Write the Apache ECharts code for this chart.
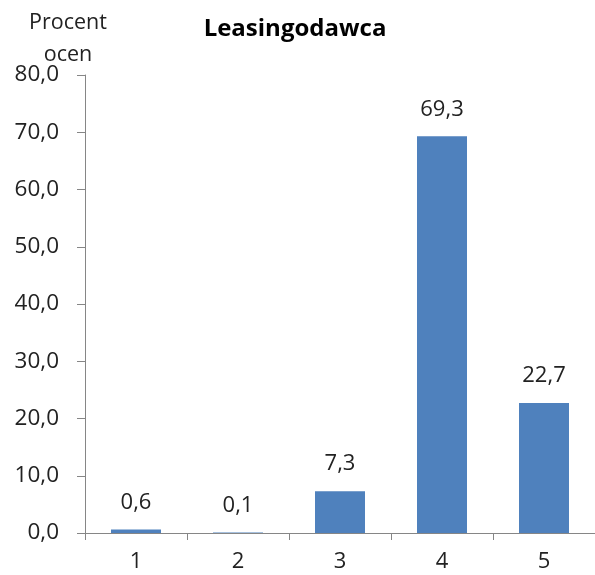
<!DOCTYPE html>
<html><head><meta charset="utf-8">
<script src="https://cdn.jsdelivr.net/npm/echarts@6/dist/echarts.min.js"></script>
<style>html,body{margin:0;padding:0;background:#fff}#c{width:595px;height:575px}</style>
</head><body><div id="c"></div>
<script>
const categories = ['1','2','3','4','5'];
const values = [0.6, 0.1, 7.3, 69.3, 22.7];
const fmt = v => v.toFixed(1).replace('.', ',');
const chart = echarts.init(document.getElementById('c'));
const font = 'Open Sans';
chart.setOption({
  animation:false,
  title:{text:'Leasingodawca', left:290, top:12, textAlign:'center',
    textStyle:{fontFamily:font,fontWeight:'bold',fontSize:24,color:'#000'}},
  graphic:[{type:'text', x:68, y:7, style:{text:'Procent\nocen', align:'center',
    font:'21.5px "Open Sans"', fill:'#222', lineHeight:32}}],
  grid:{left:85, right:0, top:75, bottom:42},
  xAxis:{type:'category', data:categories,
    axisLine:{lineStyle:{color:'#868686'}},
    axisTick:{show:true, length:7, lineStyle:{color:'#868686'}},
    axisLabel:{fontFamily:font,fontSize:22,color:'#222',margin:18}},
  yAxis:{type:'value', min:0, max:80, interval:10,
    axisLine:{show:true, lineStyle:{color:'#868686'}},
    axisTick:{show:true, length:8, lineStyle:{color:'#868686'}},
    splitLine:{show:false},
    axisLabel:{fontFamily:font,fontSize:22.5,color:'#222',margin:26, formatter:v=>fmt(v)}},
  series:[{type:'bar', data:values, barWidth:50, itemStyle:{color:'#4F81BD'},
    label:{show:true, position:'top', distance:16, fontFamily:font, fontSize:22, color:'#222',
      formatter:p=>fmt(p.value)}}]
});
</script></body></html>
